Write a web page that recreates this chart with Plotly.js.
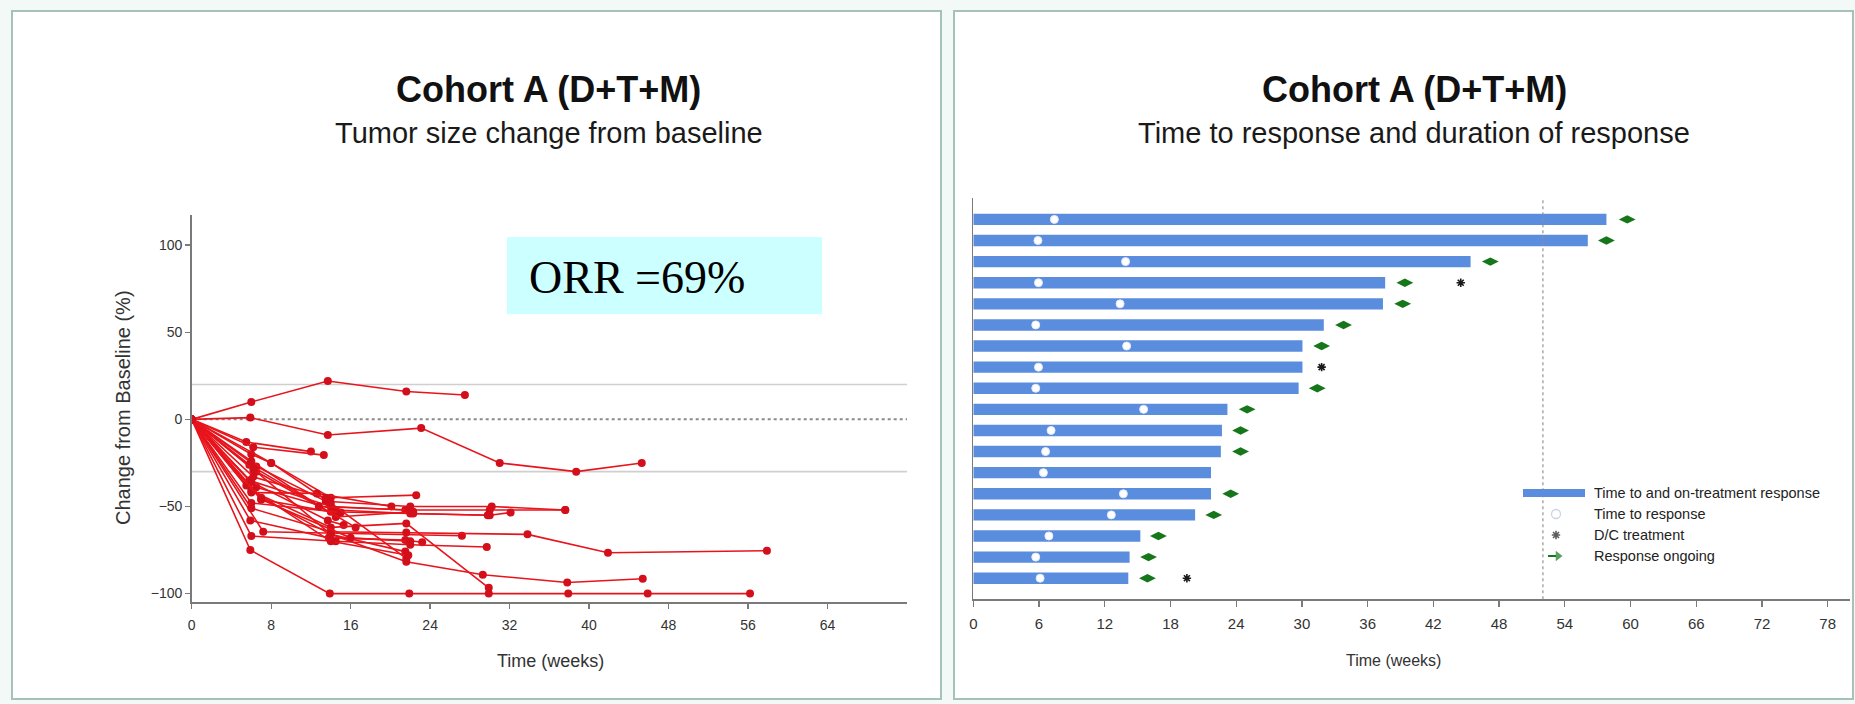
<!DOCTYPE html>
<html>
<head>
<meta charset="utf-8">
<script src="https://cdn.plot.ly/plotly-3.0.1.min.js"></script>
<style>
  html, body { margin: 0; padding: 0; background: #f3f9f7; }
  #chart { width: 1855px; height: 704px; }
</style>
</head>
<body>
<div id="chart"></div>
<script>
// ---------- Tumor size change from baseline (one line per patient) ----------
const patientWeeks = [
  [0, 6, 13.7, 21.6, 27.5],
  [0, 5.9, 13.7, 23.1, 31, 38.7, 45.3],
  [0, 5.5, 12],
  [0, 6.2, 13.3],
  [0, 6, 8, 14, 22.6],
  [0, 6.5, 13.5, 22, 30.2, 37.6],
  [0, 5.8, 14, 21.5, 30, 37.6],
  [0, 6.5, 14.5, 22, 30, 32.1],
  [0, 6, 12.6, 20.1],
  [0, 7, 14, 22.3, 29.8],
  [0, 6, 15],
  [0, 6, 13.7, 15.3],
  [0, 7.2, 27.2],
  [0, 6, 14, 21.6, 33.8, 41.9, 57.9],
  [0, 5.9, 13.8, 21.5, 23.2],
  [0, 6, 14.5, 22, 29.7],
  [0, 7, 14, 21.6, 29.3, 37.8, 45.4],
  [0, 5.9, 13.9, 21.9, 29.9, 37.9, 45.9, 56.2],
  [0, 6, 14, 21.6, 29.9],
  [0, 8, 14, 21.6],
  [0, 6.5, 14, 21.5],
  [0, 6.2, 13.5],
  [0, 5.5, 14, 21.8],
  [0, 6, 14.5, 22.3],
  [0, 7, 16, 22],
  [0, 5.8, 16.5],
  [0, 6.2, 12.8, 21.9]
];
const patientChange = [
  [0, 10, 22, 16, 14],
  [0, 1, -9, -5, -25, -30, -25],
  [0, -13, -18.5],
  [0, -16, -20.5],
  [0, -20, -25, -45, -43.5],
  [0, -27, -47, -50, -50, -52],
  [0, -35, -50, -52, -52, -52],
  [0, -39, -52, -54, -55, -53.5],
  [0, -42, -42.5, -50],
  [0, -46, -53, -54, -55],
  [0, -48, -53.4],
  [0, -36, -58, -60.7],
  [0, -64.5, -66.8],
  [0, -51, -64.5, -65, -66, -76.6, -75.4],
  [0, -58, -68, -69.3, -70.5],
  [0, -67, -70, -72, -73.3],
  [0, -45, -66, -81.7, -89.2, -93.6, -91.5],
  [0, -75, -100, -100, -100, -100, -100, -100],
  [0, -41, -62, -59.7, -96.7],
  [0, -25, -48, -79.8],
  [0, -30, -66, -75.9],
  [0, -33, -45],
  [0, -38, -70, -78],
  [0, -24, -56, -53],
  [0, -46, -68, -70],
  [0, -26, -62],
  [0, -29, -50, -52]
];
const referenceLevels = [20, -30];   // progression / response thresholds (%)
const baselineLevel = 0;
const orrPercent = 69;
const tumorXTicks = [0, 8, 16, 24, 32, 40, 48, 56, 64];
const tumorYTicks = [-100, -50, 0, 50, 100];

// ---------- Time to response and duration of response (one bar per responder) ----------
const responderRows = [1, 2, 3, 4, 5, 6, 7, 8, 9, 10, 11, 12, 13, 14, 15, 16, 17, 18];
const responseEndWeek = [57.8, 56.1, 45.4, 37.6, 37.4, 32.0, 30.05, 30.05, 29.7, 23.2, 22.7, 22.6, 21.7, 21.7, 20.25, 15.25, 14.27, 14.15];
const timeToResponseWeek = [7.4, 5.9, 13.9, 5.95, 13.4, 5.7, 14.0, 5.95, 5.7, 15.55, 7.1, 6.6, 6.4, 13.7, 12.6, 6.9, 5.7, 6.1];
const ongoingMarkWeek = [59.7, 57.8, 47.2, 39.4, 39.2, 33.8, 31.8, null, 31.4, 25.0, 24.4, 24.4, null, 23.5, 21.95, 16.9, 16.0, 15.9];
const discontinuedWeek = [null, null, null, 44.5, null, null, null, 31.8, null, null, null, null, null, null, null, null, null, 19.5];
const oneYearWeek = 52;
const durationXTicks = [0, 6, 12, 18, 24, 30, 36, 42, 48, 54, 60, 66, 72, 78];
const legendLabels = ['Time to and on-treatment response', 'Time to response', 'D/C treatment', 'Response ongoing'];

// ---------- page geometry (pixels) ----------
const W = 1855, H = 704;
const px = v => v / W;
const py = v => 1 - v / H;

const SANS = 'Liberation Sans, Arial, sans-serif';
const SERIF = 'Liberation Serif, Times New Roman, serif';
const AXIS_GREY = '#7a7a7a';
const TEXT_GREY = '#333333';
const LINE_RED = '#e8141c';
const DOT_RED = '#d20f1a';
const BAR_BLUE = '#5b8ddf';
const ARROW_GREEN = '#16761a';

const traces = [];

// patient lines
patientWeeks.forEach((weeks, i) => {
  traces.push({
    type: 'scatter', mode: 'lines+markers',
    x: weeks, y: patientChange[i],
    xaxis: 'x', yaxis: 'y',
    line: { color: LINE_RED, width: 1.6 },
    marker: { color: DOT_RED, size: 8 },
    hoverinfo: 'x+y', showlegend: false
  });
});

// response bars
traces.push({
  type: 'bar', orientation: 'h',
  x: responseEndWeek, y: responderRows, base: 0,
  width: 0.54, xaxis: 'x2', yaxis: 'y2',
  marker: { color: BAR_BLUE, line: { width: 0 } },
  showlegend: false
});
// time to response
traces.push({
  type: 'scatter', mode: 'markers',
  x: timeToResponseWeek, y: responderRows,
  xaxis: 'x2', yaxis: 'y2',
  marker: { symbol: 'circle', size: 8, color: '#ffffff', line: { color: '#e3e9f7', width: 1 } },
  showlegend: false
});
// response ongoing
traces.push({
  type: 'scatter', mode: 'markers',
  x: ongoingMarkWeek, y: responderRows,
  xaxis: 'x2', yaxis: 'y2',
  marker: { symbol: 'diamond-wide', size: 12, color: ARROW_GREEN },
  showlegend: false
});
// discontinued treatment
traces.push({
  type: 'scatter', mode: 'markers',
  x: discontinuedWeek, y: responderRows,
  xaxis: 'x2', yaxis: 'y2',
  marker: { symbol: 'asterisk-open', size: 7, color: '#1a1a1a', line: { color: '#1a1a1a', width: 1.6 } },
  showlegend: false
});

// legend key, drawn on a full-page axis pair measured in page pixels
const legendLeft = 1523, legendSwatchRight = 1585, legendTextX = 1592;
const legendRowY = [493, 514, 535, 556];
const legendGlyphX = 1556;
traces.push({
  type: 'scatter', mode: 'markers',
  x: [legendGlyphX, legendGlyphX, legendGlyphX + 2],
  y: [legendRowY[1], legendRowY[2], legendRowY[3]],
  xaxis: 'x3', yaxis: 'y3',
  marker: {
    symbol: ['circle-open', 'asterisk-open', 'triangle-right'],
    size: [9, 7, 9],
    color: ['#b9c1dd', '#1a1a1a', ARROW_GREEN],
    line: { width: [1.3, 1.6, 0], color: ['#b9c1dd', '#1a1a1a', ARROW_GREEN] }
  },
  hoverinfo: 'skip', showlegend: false, cliponaxis: false
});

const axisFont = { family: SANS, size: 14, color: TEXT_GREY };

const shapes = [
  // panels
  { type: 'rect', xref: 'paper', yref: 'paper', layer: 'below',
    x0: px(12), x1: px(941), y0: py(699), y1: py(11),
    fillcolor: '#ffffff', line: { color: '#a5c2b8', width: 2 } },
  { type: 'rect', xref: 'paper', yref: 'paper', layer: 'below',
    x0: px(954), x1: px(1853), y0: py(699), y1: py(11),
    fillcolor: '#ffffff', line: { color: '#a5c2b8', width: 2 } },
  // ORR box
  { type: 'rect', xref: 'paper', yref: 'paper', layer: 'below',
    x0: px(507), x1: px(822), y0: py(314), y1: py(237),
    fillcolor: '#ccffff', line: { width: 0 } },
  // baseline
  { type: 'line', xref: 'x domain', yref: 'y', layer: 'below',
    x0: 0, x1: 1, y0: baselineLevel, y1: baselineLevel,
    line: { color: '#8a8a8a', width: 2, dash: 'dot' } },
  // one-year marker
  { type: 'line', xref: 'x2', yref: 'y2 domain', layer: 'above',
    x0: oneYearWeek, x1: oneYearWeek, y0: 0, y1: 1,
    line: { color: 'rgba(140,140,140,0.75)', width: 1.5, dash: 'dot' } },
  // legend swatch and arrow tail
  { type: 'rect', xref: 'paper', yref: 'paper', layer: 'above',
    x0: px(legendLeft), x1: px(legendSwatchRight), y0: py(legendRowY[0] + 4), y1: py(legendRowY[0] - 4),
    fillcolor: BAR_BLUE, line: { width: 0 } },
  { type: 'line', xref: 'paper', yref: 'paper', layer: 'above',
    x0: px(legendGlyphX - 8), x1: px(legendGlyphX), y0: py(legendRowY[3]), y1: py(legendRowY[3]),
    line: { color: ARROW_GREEN, width: 2 } }
];
referenceLevels.forEach(level => {
  shapes.push({ type: 'line', xref: 'x domain', yref: 'y', layer: 'below',
    x0: 0, x1: 1, y0: level, y1: level,
    line: { color: '#cfcfcf', width: 1.6 } });
});

const annotations = [
  { text: '<b>Cohort A (D+T+M)</b>', x: px(548), y: py(89),
    font: { family: SANS, size: 36, color: '#111' } },
  { text: 'Tumor size change from baseline', x: px(549), y: py(133),
    font: { family: SANS, size: 29, color: '#1a1a1a' } },
  { text: '<b>Cohort A (D+T+M)</b>', x: px(1414), y: py(90),
    font: { family: SANS, size: 36, color: '#111' } },
  { text: 'Time to response and duration of response', x: px(1414), y: py(133),
    font: { family: SANS, size: 29, color: '#1a1a1a' } },
  { text: 'ORR =' + orrPercent + '%', x: px(527), y: py(277), xanchor: 'left',
    font: { family: SERIF, size: 46, color: '#000' } },
  { text: 'Change from Baseline (%)', x: px(123), y: py(408), textangle: -90,
    font: { family: SANS, size: 20, color: TEXT_GREY } },
  { text: 'Time (weeks)', x: px(550), y: py(661),
    font: { family: SANS, size: 18, color: TEXT_GREY } },
  { text: 'Time (weeks)', x: px(1393), y: py(660),
    font: { family: SANS, size: 16, color: TEXT_GREY } }
].map(a => Object.assign({ xref: 'paper', yref: 'paper', showarrow: false,
  xanchor: 'center', yanchor: 'middle' }, a));

legendLabels.forEach((label, i) => {
  annotations.push({ xref: 'paper', yref: 'paper', showarrow: false,
    x: px(legendTextX), y: py(legendRowY[i]), xanchor: 'left', yanchor: 'middle',
    text: label, font: { family: SANS, size: 14.5, color: '#222' } });
});

const layout = {
  width: W, height: H,
  margin: { l: 0, r: 0, t: 0, b: 0 },
  paper_bgcolor: '#f3f9f7',
  plot_bgcolor: 'rgba(0,0,0,0)',
  showlegend: false,
  xaxis: {
    domain: [px(191.7), px(907)], range: [0, 72], anchor: 'y',
    tickvals: tumorXTicks, ticks: 'outside', ticklen: 5, tickwidth: 1.3, tickcolor: AXIS_GREY,
    showline: true, linecolor: AXIS_GREY, linewidth: 1.5,
    showgrid: false, zeroline: false, tickfont: axisFont, ticklabelstandoff: 4
  },
  yaxis: {
    domain: [py(602.3), py(215)], range: [-105, 117.3], anchor: 'x',
    tickvals: tumorYTicks, ticks: 'outside', ticklen: 5, tickwidth: 1.3, tickcolor: AXIS_GREY,
    showline: true, linecolor: AXIS_GREY, linewidth: 1.5,
    showgrid: false, zeroline: false, tickfont: axisFont
  },
  xaxis2: {
    domain: [px(973.3), px(1849.6)], range: [0, 80], anchor: 'y2',
    tickvals: durationXTicks, ticks: 'outside', ticklen: 6, tickwidth: 1.3, tickcolor: AXIS_GREY,
    showline: true, linecolor: AXIS_GREY, linewidth: 1.5,
    showgrid: false, zeroline: false, tickfont: { family: SANS, size: 15, color: TEXT_GREY },
    ticklabelstandoff: 4
  },
  yaxis2: {
    domain: [py(599.3), py(198.3)], range: [19, 0], anchor: 'x2',
    showticklabels: false, ticks: '', showline: true, linecolor: AXIS_GREY, linewidth: 1.5,
    showgrid: false, zeroline: false
  },
  xaxis3: { domain: [0, 1], range: [0, W], anchor: 'y3', visible: false, fixedrange: true },
  yaxis3: { domain: [0, 1], range: [H, 0], anchor: 'x3', visible: false, fixedrange: true },
  shapes: shapes,
  annotations: annotations
};

Plotly.newPlot('chart', traces, layout, { displayModeBar: false, staticPlot: true });
</script>
</body>
</html>
